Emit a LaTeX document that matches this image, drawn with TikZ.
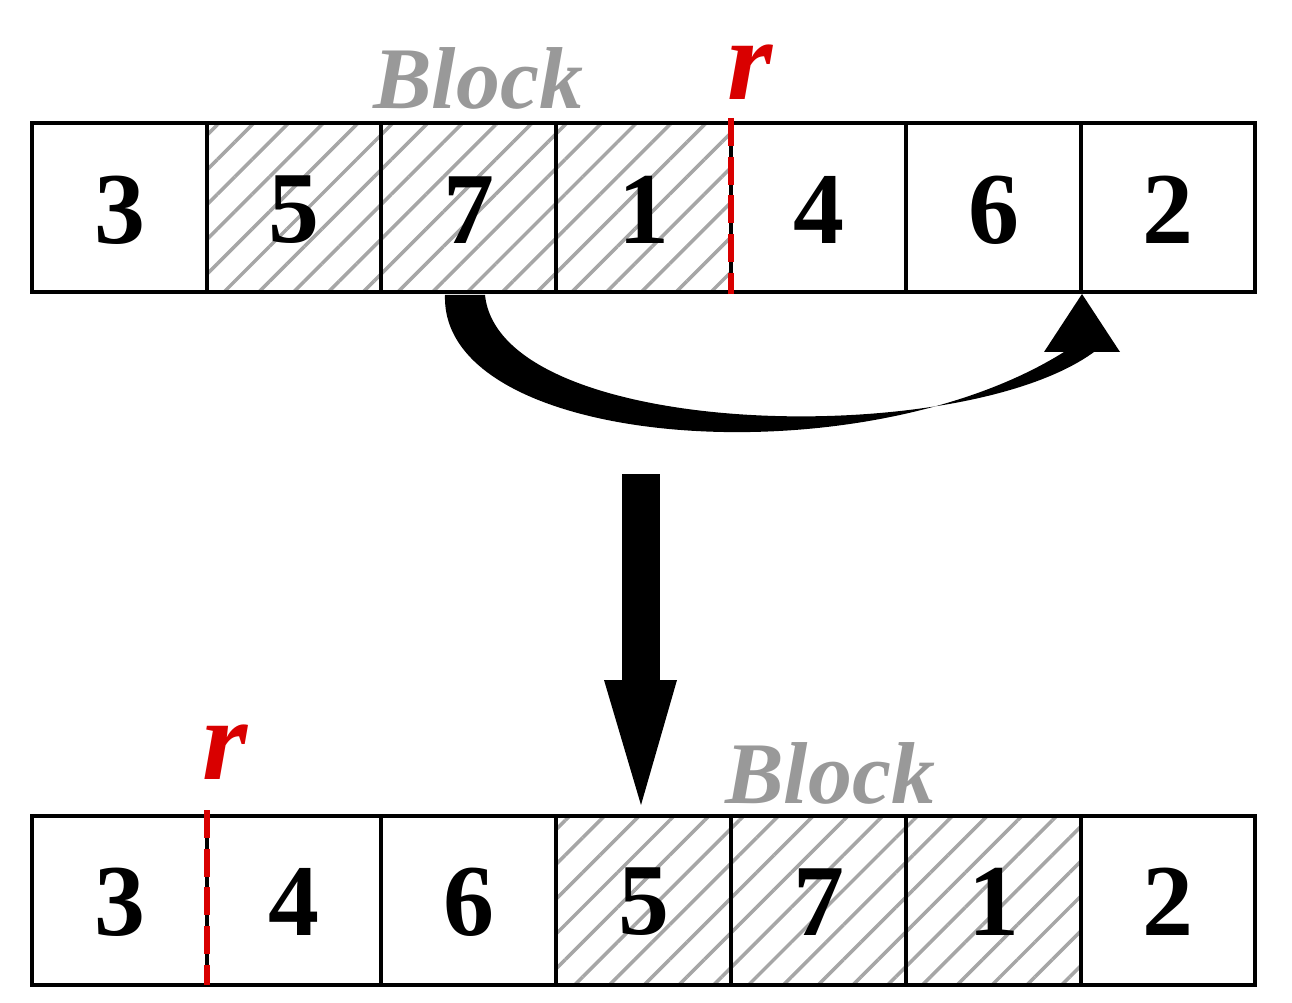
\documentclass[tikz,border=0pt]{standalone}
\usepackage{fontspec}
\setmainfont{Liberation Serif}
\usetikzlibrary{patterns.meta}
\begin{document}
\begin{tikzpicture}[x=0.02cm,y=-0.02cm,
  cell/.style={draw,line width=1.8pt},
  hatch/.style={pattern={Lines[angle=45,distance=14pt,line width=2pt]},pattern color=black!35},
  num/.style={font=\fontsize{58}{60}\selectfont\bfseries},
  blk/.style={font=\fontsize{50}{54}\selectfont\bfseries\itshape,text=black!40},
  rr/.style={font=\fontsize{66}{66}\selectfont\bfseries\itshape,text=red!85!black},
  rline/.style={red!85!black,line width=3.5pt,dash pattern=on 16pt off 6pt}]
\useasboundingbox (0,0) rectangle (1292,1003);
\def\xs{{32,207,381,556,731,906,1081,1255}}
\foreach \i/\v/\h in {0/3/0,1/5/1,2/7/1,3/1/1,4/4/0,5/6/0,6/2/0}{
  \pgfmathsetmacro\xa{\xs[\i]}\pgfmathsetmacro\xb{\xs[\i+1]}
  \ifnum\h=1 \fill[hatch] (\xa,123) rectangle (\xb,292);\fi
  \draw[cell] (\xa,123) rectangle (\xb,292);
  \node[num] (t\i) at ({(\xa+\xb)/2},210) {\v};
}
\foreach \i/\v/\h in {0/3/0,1/4/0,2/6/0,3/5/1,4/7/1,5/1/1,6/2/0}{
  \pgfmathsetmacro\xa{\xs[\i]}\pgfmathsetmacro\xb{\xs[\i+1]}
  \ifnum\h=1 \fill[hatch] (\xa,816) rectangle (\xb,985);\fi
  \draw[cell] (\xa,816) rectangle (\xb,985);
  \node[num] (b\i) at ({(\xa+\xb)/2},902) {\v};
}
\node[blk] (blk1) at (478,78) {Block};
\node[blk] (blk2) at (830,773) {Block};
\draw[black,line width=2pt] (731,123) -- (731,292);
\draw[rline] (731,118) -- (731,294);
\node[rr] (r1) at (750,72) {r};
\draw[black,line width=2pt] (207,816) -- (207,985);
\draw[rline] (207,810) -- (207,985);
\node[rr] (r2) at (225,752) {r};
\fill (445,295) .. controls (440,450) and (860,480) .. (1064,352)
  -- (1044,352) -- (1082,294) -- (1120,352) -- (1094,352)
  .. controls (960,450) and (500,440) .. (485,295) -- cycle;
\fill (622,474) rectangle (660,682);
\fill (604,680) -- (677,680) -- (641,805) -- cycle;
\end{tikzpicture}
\end{document}
